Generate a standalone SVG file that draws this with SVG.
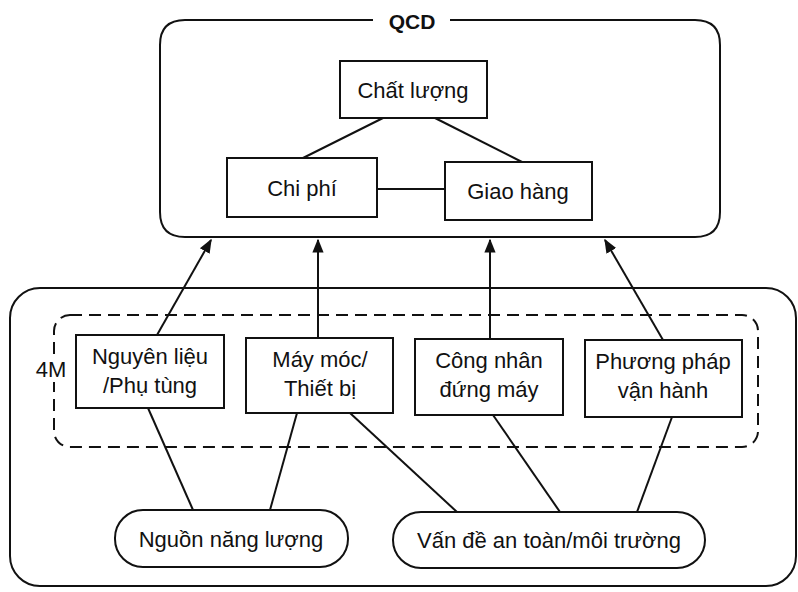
<svg xmlns="http://www.w3.org/2000/svg" width="798" height="592" viewBox="0 0 798 592">
<defs>
<style>
.box{fill:#fff;stroke:#111;stroke-width:2}
.frame{fill:none;stroke:#111;stroke-width:2}
.dash{fill:none;stroke:#111;stroke-width:2;stroke-dasharray:12 7}
.ln{stroke:#111;stroke-width:2;fill:none}
.t{font-family:"Liberation Sans",Arial,sans-serif;font-size:22px;fill:#111;text-anchor:middle}
.b{font-weight:bold;font-size:21px}
</style>
<marker id="ah" viewBox="0 0 10 10" refX="9" refY="5" markerWidth="7" markerHeight="7" orient="auto" markerUnits="strokeWidth">
<path d="M0,1 L10,5 L0,9 Z" fill="#111"/>
</marker>
</defs>
<rect width="798" height="592" fill="#fff"/>
<g id="qcd">
<path class="frame" d="M373,20 H185 Q160,20 160,45 V212 Q160,237 185,237 H695 Q720,237 720,212 V45 Q720,20 695,20 H450"/>
<text class="t b" x="412" y="29">QCD</text>
</g>
<g id="factors">
<rect class="frame" x="10" y="288" width="786" height="298" rx="30"/>
</g>
<g id="m4">
<rect class="dash" x="54" y="315" width="704" height="132" rx="16"/>
<rect x="34" y="356" width="36" height="26" fill="#fff"/>
<text class="t" x="51" y="377">4M</text>
</g>
<g id="connectors">
<line class="ln" x1="383" y1="118" x2="303" y2="158"/>
<line class="ln" x1="435" y1="118" x2="522" y2="162"/>
<line class="ln" x1="377" y1="189" x2="445" y2="189"/>
<line class="ln" x1="157" y1="335" x2="211" y2="240" marker-end="url(#ah)"/>
<line class="ln" x1="318" y1="338" x2="318" y2="240" marker-end="url(#ah)"/>
<line class="ln" x1="490" y1="339" x2="490" y2="240" marker-end="url(#ah)"/>
<line class="ln" x1="663" y1="340" x2="605" y2="240" marker-end="url(#ah)"/>
<line class="ln" x1="148" y1="408" x2="193" y2="510"/>
<line class="ln" x1="297" y1="413" x2="270" y2="510"/>
<line class="ln" x1="350" y1="413" x2="457" y2="512"/>
<line class="ln" x1="493" y1="415" x2="560" y2="512"/>
<line class="ln" x1="672" y1="417" x2="637" y2="512"/>
</g>
<g id="chat-luong">
<rect class="box" x="340" y="61" width="147" height="57"/>
<text class="t" x="413" y="98">Chất lượng</text>
</g>
<g id="chi-phi">
<rect class="box" x="227" y="158" width="150" height="59"/>
<text class="t" x="302" y="196">Chi phí</text>
</g>
<g id="giao-hang">
<rect class="box" x="445" y="162" width="147" height="58"/>
<text class="t" x="518" y="199">Giao hàng</text>
</g>
<g id="nguyen-lieu">
<rect class="box" x="76" y="335" width="148" height="73"/>
<text class="t" x="150" y="364">Nguyên liệu</text>
<text class="t" x="150" y="393">/Phụ tùng</text>
</g>
<g id="may-moc">
<rect class="box" x="246" y="338" width="147" height="75"/>
<text class="t" x="320" y="367">Máy móc/</text>
<text class="t" x="320" y="396">Thiết bị</text>
</g>
<g id="cong-nhan">
<rect class="box" x="415" y="339" width="148" height="76"/>
<text class="t" x="489" y="368">Công nhân</text>
<text class="t" x="489" y="397">đứng máy</text>
</g>
<g id="phuong-phap">
<rect class="box" x="585" y="340" width="157" height="77"/>
<text class="t" x="663" y="369">Phương pháp</text>
<text class="t" x="663" y="398">vận hành</text>
</g>
<g id="nguon-nang-luong">
<rect class="box" x="115" y="510" width="233" height="57" rx="28"/>
<text class="t" x="231" y="547">Nguồn năng lượng</text>
</g>
<g id="van-de">
<rect class="box" x="393" y="512" width="312" height="56" rx="28"/>
<text class="t" x="549" y="548">Vấn đề an toàn/môi trường</text>
</g>
</svg>
